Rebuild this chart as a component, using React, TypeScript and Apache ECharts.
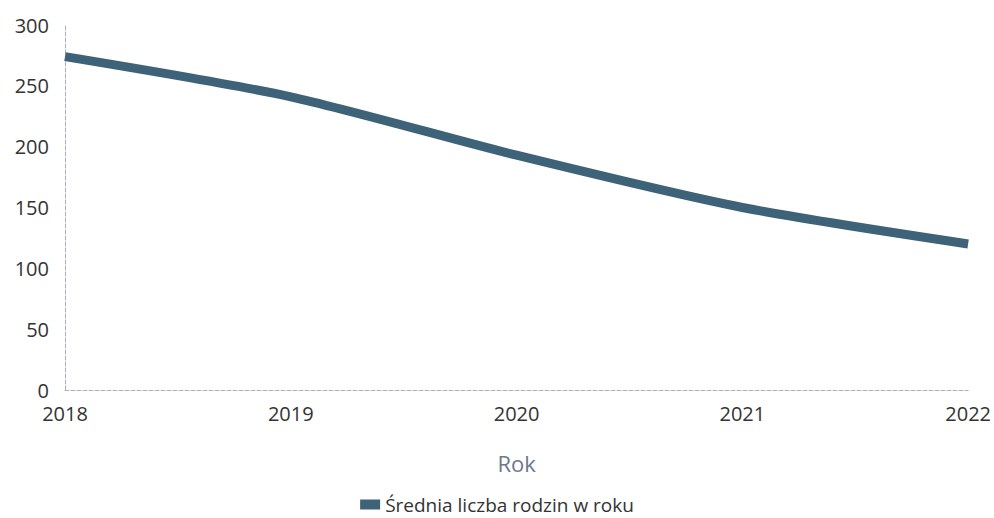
import React, { useEffect, useRef } from "react";
import * as echarts from "echarts";

const years = ["2018", "2019", "2020", "2021", "2022"];
const values = [274, 241, 193, 150, 120];
const seriesName = "Średnia liczba rodzin w roku";
const xAxisName = "Rok";

export default function App() {
  const ref = useRef<HTMLDivElement>(null);
  useEffect(() => {
    if (!ref.current) return;
    const chart = echarts.init(ref.current, undefined, { renderer: "svg" });
    const font = "'Open Sans', 'Noto Sans', sans-serif";
    chart.setOption({
      animation: false,
      backgroundColor: "#ffffff",
      textStyle: { fontFamily: font },
      grid: { left: 65, right: 24, top: 25, bottom: 128, containLabel: false },
      legend: {
        data: [{ name: seriesName, icon: "rect" }],
        top: 495,
        left: "center",
        padding: 0,
        itemWidth: 20,
        itemHeight: 10,
        itemGap: 8,
        textStyle: { fontSize: 19, lineHeight: 18, color: "#333", fontFamily: font },
      },
      xAxis: {
        type: "category",
        data: years,
        boundaryGap: false,
        name: xAxisName,
        nameLocation: "middle",
        nameGap: 62,
        nameTextStyle: { fontSize: 22, color: "#6b788c", fontFamily: font },
        axisLine: { show: true, lineStyle: { color: "#aab0b8", type: "dashed", width: 1 } },
        axisTick: { show: false },
        axisLabel: { fontSize: 20, color: "#333", margin: 13, fontFamily: font },
        splitLine: { show: false },
      },
      yAxis: {
        type: "value",
        min: 0,
        max: 300,
        interval: 50,
        axisLine: { show: true, lineStyle: { color: "#aab0b8", type: "dashed", width: 1 } },
        axisTick: { show: false },
        axisLabel: { fontSize: 20, color: "#333", margin: 16, fontFamily: font },
        splitLine: { show: false },
      },
      series: [
        {
          name: seriesName,
          type: "line",
          data: values,
          smooth: 0.25,
          showSymbol: false,
          symbol: "none",
          itemStyle: { color: "#3e6378" },
          lineStyle: { color: "#3e6378", width: 9, cap: "butt" },
        },
      ],
    });
    return () => chart.dispose();
  }, []);
  return (
    <div
      ref={ref}
      style={{ position: "fixed", left: 0, top: 0, width: 994, height: 518, background: "#fff" }}
    />
  );
}
